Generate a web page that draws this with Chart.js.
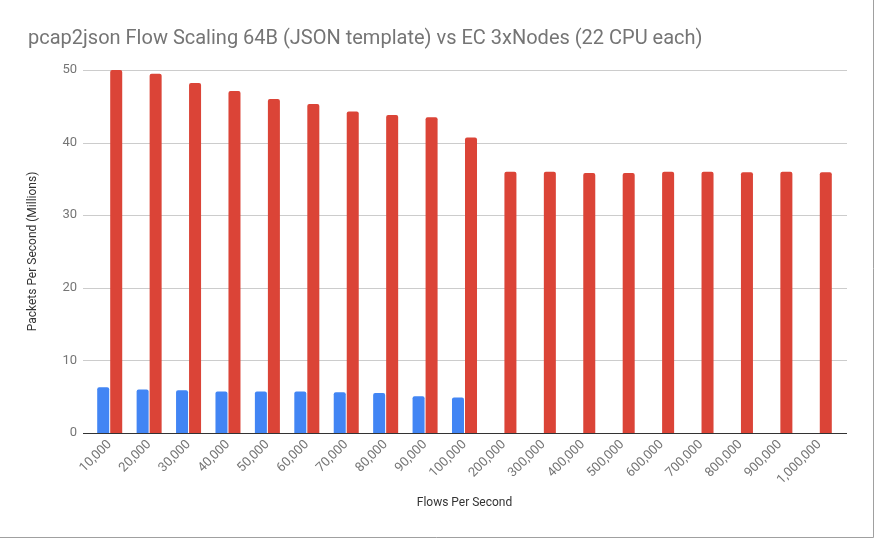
<!DOCTYPE html>
<html>
<head>
<meta charset="utf-8">
<script src="https://cdn.jsdelivr.net/npm/chart.js@4.4.0/dist/chart.umd.min.js"></script>
<style>
  html, body { margin: 0; padding: 0; background: #fff; }
  #wrap { width: 876px; height: 538px; position: relative; }
</style>
</head>
<body>
<div id="wrap"><canvas id="c" width="876" height="538"></canvas></div>
<script>
const titleText = "pcap2json Flow Scaling 64B (JSON template) vs EC 3xNodes (22 CPU each)";
const xAxisTitle = "Flows Per Second";
const yAxisTitle = "Packets Per Second (Millions)";
const categories = ["10,000","20,000","30,000","40,000","50,000","60,000","70,000","80,000","90,000","100,000",
  "200,000","300,000","400,000","500,000","600,000","700,000","800,000","900,000","1,000,000"];
const singleNode = [6.3, 6.0, 5.9, 5.7, 5.7, 5.7, 5.6, 5.5, 5.05, 4.9,
  null, null, null, null, null, null, null, null, null];
const ec3Nodes = [50.0, 49.5, 48.2, 47.1, 46.0, 45.3, 44.3, 43.8, 43.5, 40.7,
  36.0, 36.0, 35.8, 35.8, 36.0, 36.0, 35.9, 36.0, 35.9];
const yTicks = [0, 10, 20, 30, 40, 50];

const FONT = "Roboto";

const gridPlugin = {
  id: "gridPlugin",
  beforeDatasetsDraw(chart) {
    const { ctx, chartArea } = chart;
    const y = chart.scales.y;
    const l = chartArea.left - 7, r = chartArea.right + 8;
    ctx.save();
    ctx.lineWidth = 1;
    ctx.strokeStyle = "#cccccc";
    yTicks.forEach(v => {
      if (v === 0) return;
      const py = Math.round(y.getPixelForValue(v)) + 0.5;
      ctx.beginPath(); ctx.moveTo(l, py); ctx.lineTo(r, py); ctx.stroke();
    });
    ctx.restore();
  },
  afterDatasetsDraw(chart) {
    const { ctx, chartArea } = chart;
    const y = chart.scales.y;
    const l = chartArea.left - 7, r = chartArea.right + 8;
    ctx.save();
    ctx.strokeStyle = "#333333";
    ctx.lineWidth = 1;
    const py = Math.round(y.getPixelForValue(0)) + 0.5;
    ctx.beginPath(); ctx.moveTo(l, py); ctx.lineTo(r, py); ctx.stroke();
    // frame
    ctx.strokeStyle = "#a0a0a0";
    ctx.beginPath();
    ctx.moveTo(873.5, 0); ctx.lineTo(873.5, 537.5); ctx.lineTo(0, 537.5);
    ctx.stroke();
    ctx.restore();
  }
};

new Chart(document.getElementById("c"), {
  type: "bar",
  data: {
    labels: categories,
    datasets: [
      { label: "pcap2json", data: singleNode, backgroundColor: "#4285F4",
        borderRadius: { topLeft: 2, topRight: 2 }, borderSkipped: "bottom",
        barPercentage: 12 / 13, categoryPercentage: 0.66 },
      { label: "EC 3xNodes", data: ec3Nodes, backgroundColor: "#DB4437",
        borderRadius: { topLeft: 2, topRight: 2 }, borderSkipped: "bottom",
        barPercentage: 12 / 13, categoryPercentage: 0.66 }
    ]
  },
  options: {
    responsive: false,
    animation: false,
    devicePixelRatio: 1,
    layout: { padding: { left: 28, right: 37, top: 0, bottom: 0 } },
    plugins: {
      legend: { display: false },
      tooltip: { enabled: false },
      title: {
        display: true, text: titleText, align: "start",
        color: "#757575",
        font: { family: FONT, size: 20, weight: "normal" },
        padding: { top: 26.5, bottom: 19.5 }
      }
    },
    scales: {
      x: {
        grid: { display: false, drawTicks: false },
        border: { display: false },
        ticks: {
          color: "#757575", font: { family: FONT, size: 13 },
          maxRotation: 45, minRotation: 45, autoSkip: false, padding: 4
        },
        title: {
          display: true, text: xAxisTitle, color: "#333333",
          font: { family: FONT, size: 12 }, padding: { top: 0, bottom: 27.8 }
        },
        afterFit(s) { s.height = 105; }
      },
      y: {
        min: 0, max: 50,
        afterBuildTicks(s) { s.ticks = yTicks.map(v => ({ value: v })); },
        grid: { display: false, drawTicks: false },
        border: { display: false },
        ticks: { color: "#757575", font: { family: FONT, size: 13 }, padding: 13 },
        title: {
          display: true, text: yAxisTitle, color: "#333333",
          font: { family: FONT, size: 12 }, padding: { top: -2, bottom: 0 }
        },
        afterFit(s) { s.width = 62; }
      }
    }
  },
  plugins: [gridPlugin]
});
</script>
</body>
</html>
